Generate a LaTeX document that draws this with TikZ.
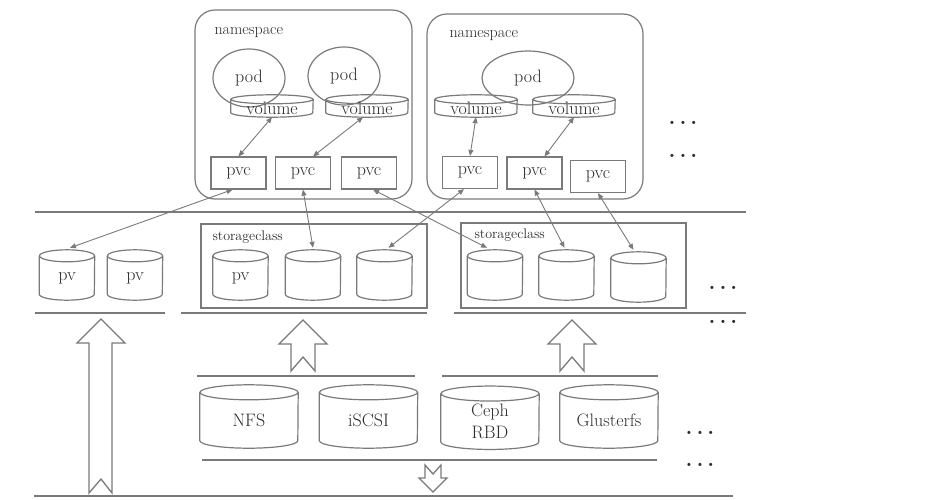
\documentclass[tikz,border=0pt]{standalone}
\usepackage{xcolor}
\usetikzlibrary{arrows.meta, shapes.geometric}
\definecolor{cline}{HTML}{7a7a7a}
\definecolor{ctext}{HTML}{2b2b2b}

\begin{document}
\begin{tikzpicture}[
  x=1pt, y=-1pt,
  font=\fontsize{18}{22}\selectfont,
  >={Triangle[length=6pt, width=5pt]},
  every node/.style={text=ctext},
  line/.style={draw=cline, line width=1.2pt},
  nsbox/.style={line, rectangle, rounded corners=20pt, inner sep=0pt},
  pod/.style={line, ellipse, minimum width=72pt, minimum height=58pt, inner sep=0pt},
  vol/.style={rectangle, inner sep=0pt, minimum width=82pt, minimum height=17.5pt},
  pvcbox/.style={line, rectangle, minimum width=55pt, minimum height=32pt, inner sep=0pt},
  disk/.style={rectangle, inner sep=0pt, minimum width=55pt, minimum height=44pt},
  store/.style={rectangle, inner sep=0pt, minimum width=98pt, minimum height=55.5pt},
  scbox/.style={line, rectangle, inner sep=0pt},
  small/.style={font=\fontsize{14}{14}\selectfont},
  dbl/.style={<->, draw=cline, line width=0.9pt},
  sep/.style={draw=cline, line width=1.3pt},
  bigarrow/.style={draw=cline, line width=1.3pt, line join=miter},
  dots/.style={font=\bfseries\fontsize{22}{22}\selectfont, inner sep=0pt},
  ]
\useasboundingbox (0,0) rectangle (944,500);

% namespaces
\node[nsbox, minimum width=217pt, minimum height=189pt] (ns1) at (303.5,104.5) {};
\node[nsbox, minimum width=216pt, minimum height=185pt] (ns2) at (535,106.5) {};
\node[small, font=\fontsize{16}{16}\selectfont, anchor=west] (ns1lab) at (211,33) {namespace};
\node[small, font=\fontsize{16}{16}\selectfont, anchor=west] (ns2lab) at (446,36) {namespace};

\node[pod] (pod1) at (249,78) {pod};
\node[pod] (pod2) at (344,76) {pod};
\node[pod, minimum width=92pt, minimum height=54pt] (pod3) at (528,78) {pod};

\node[vol] (v1) at (272,108.25) {volume};
\node[vol] (v2) at (367,108.25) {volume};
\node[vol] (v3) at (476,108.25) {volume};
\node[vol] (v4) at (574,108.25) {volume};
\foreach \n in {v1,v2,v3,v4}
  \draw[line] (\n.north) ellipse [x radius=41pt, y radius=4.5pt]
    (\n.north west) -- ([yshift=4.5pt]\n.south west)
    arc [start angle=180, end angle=360, x radius=41pt, y radius=4.5pt]
    -- (\n.north east);

\node[pvcbox] (pvc1) at (238.5,173) {pvc};
\node[pvcbox] (pvc2) at (303,173) {pvc};
\node[pvcbox] (pvc3) at (369,173) {pvc};
\node[pvcbox] (pvc4) at (470,172.5) {pvc};
\node[pvcbox] (pvc5) at (534.5,173) {pvc};
\node[pvcbox] (pvc6) at (598,176.5) {pvc};

\node[dots] (d1) at (683,123) {.\hspace{4pt}.\hspace{4pt}.};
\node[dots] (d2) at (683,156) {.\hspace{4pt}.\hspace{4pt}.};

% persistent volumes
\node[scbox, minimum width=226pt, minimum height=84pt] (sc1) at (314,266) {};
\node[scbox, minimum width=225pt, minimum height=85pt] (sc2) at (573.5,265.5) {};
\node[small, anchor=west] (sc1lab) at (209,237) {storageclass};
\node[small, anchor=west] (sc2lab) at (471,235) {storageclass};

\node[disk] (pvA) at (67,278) {pv};
\node[disk] (pvB) at (135,278) {pv};
\node[disk] (sc1a) at (240.5,278) {pv};
\node[disk] (sc1b) at (313,278) {};
\node[disk] (sc1c) at (384.5,278) {};
\node[disk] (sc2a) at (495,278) {};
\node[disk] (sc2b) at (566.5,278) {};
\node[disk] (sc2c) at (638.5,280) {};
\foreach \n in {pvA,pvB,sc1a,sc1b,sc1c,sc2a,sc2b,sc2c}
  \draw[line] (\n.north) ellipse [x radius=27.5pt, y radius=6pt]
    (\n.north west) -- ([yshift=6pt]\n.south west)
    arc [start angle=180, end angle=360, x radius=27.5pt, y radius=6pt]
    -- (\n.north east);

\node[dots] (d3) at (723,288) {.\hspace{4pt}.\hspace{4pt}.};
\node[dots] (d4) at (723,322) {.\hspace{4pt}.\hspace{4pt}.};

% storage backends
\node[store] (nfs) at (249,420.25) {NFS};
\node[store] (iscsi) at (368.5,420.25) {iSCSI};
\node[store, align=center] (ceph) at (490,421.5) {Ceph\\RBD};
\node[store] (gfs) at (609,420.25) {Glusterfs};
\foreach \n in {nfs,iscsi,ceph,gfs}
  \draw[line] (\n.north) ellipse [x radius=49pt, y radius=7.5pt]
    (\n.north west) -- ([yshift=7.5pt]\n.south west)
    arc [start angle=180, end angle=360, x radius=49pt, y radius=7.5pt]
    -- (\n.north east);

\node[dots] (d5) at (700,433) {.\hspace{4pt}.\hspace{4pt}.};
\node[dots] (d6) at (700,465) {.\hspace{4pt}.\hspace{4pt}.};

% separators
\draw[sep] (35,212) -- (746,212);
\draw[sep] (35,313) -- (165,313);
\draw[sep] (181,313) -- (427,313);
\draw[sep] (454,313) -- (746,313);
\draw[sep] (197,376) -- (415,376);
\draw[sep] (442,376) -- (658,376);
\draw[sep] (202,460) -- (657,460);
\draw[sep] (34,496) -- (733,496);

% hollow arrows
\draw[bigarrow] (101,319) -- (125,343) -- (112,343) -- (112,493) -- (101,479)
  -- (89,493) -- (89,343) -- (77,343) -- cycle;
\foreach \cx in {303,572}
  \draw[bigarrow] (\cx,320) -- (\cx+24,344) -- (\cx+12,344) -- (\cx+12,371)
    -- (\cx,357) -- (\cx-12,371) -- (\cx-12,344) -- (\cx-24,344) -- cycle;
\draw[bigarrow] (433,492) -- (447,478) -- (441,478) -- (441,465) -- (433,474)
  -- (425,465) -- (425,478) -- (419,478) -- cycle;

% volume <-> pvc
\draw[dbl] (v1.south) -- (pvc1.north);
\draw[dbl] ([xshift=-4pt]v2.south) -- ([xshift=10pt]pvc2.north);
\draw[dbl] (v3.south) -- (pvc4.north);
\draw[dbl] (v4.south) -- ([xshift=10pt]pvc5.north);

% pvc <-> pv
\draw[dbl] ([xshift=-6pt]pvc1.south) -- ([xshift=3pt,yshift=8pt]pvA.north);
\draw[dbl] (pvc2.south) -- ([yshift=8pt]sc1b.north);
\draw[dbl] ([xshift=4pt]pvc3.south) -- ([xshift=-8pt,yshift=8pt]sc2a.north);
\draw[dbl] ([xshift=-6pt]pvc4.south) -- ([xshift=4pt,yshift=8pt]sc1c.north);
\draw[dbl] (pvc5.south) -- ([xshift=-2pt,yshift=8pt]sc2b.north);
\draw[dbl] (pvc6.south) -- ([xshift=-5pt,yshift=8pt]sc2c.north);
\end{tikzpicture}
\end{document}
